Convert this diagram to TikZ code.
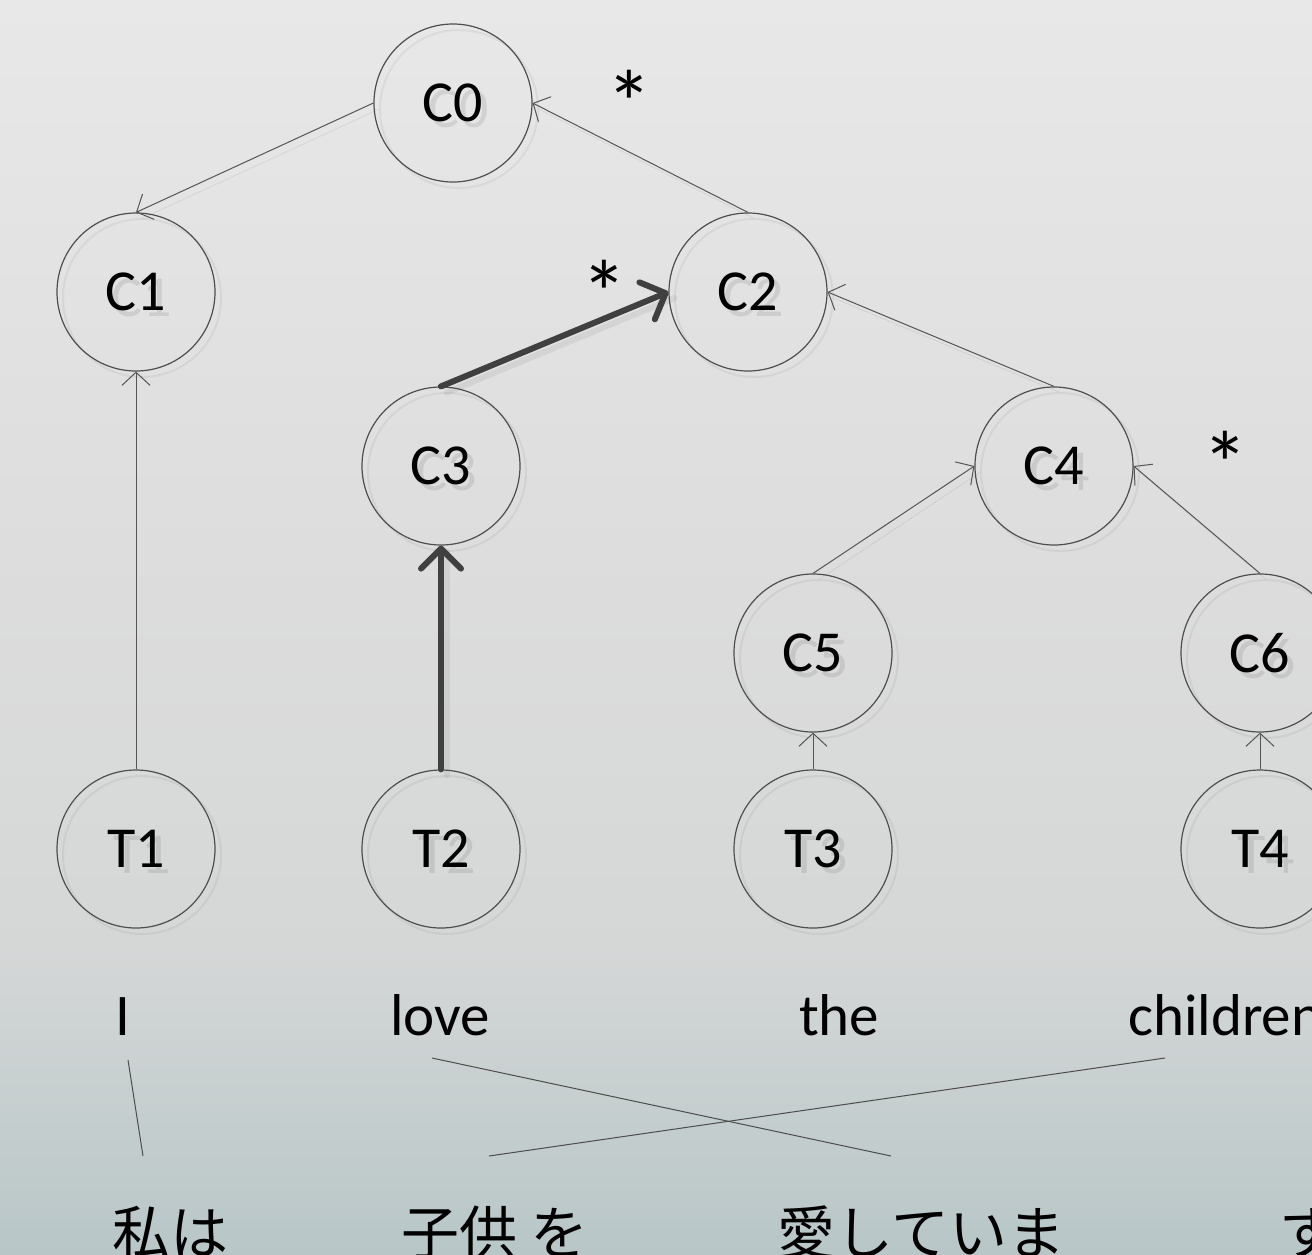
\documentclass[tikz,border=0pt]{standalone}
\usepackage{fontspec}
\setmainfont{Carlito}
\newfontfamily\jpfont{Noto Sans CJK JP}
\usetikzlibrary{arrows.meta,calc}
\pgfdeclarelayer{bg}
\pgfdeclarelayer{shadow}
\pgfsetlayers{bg,shadow,main}
\definecolor{bgA}{HTML}{E8E8E8}
\definecolor{bgB}{HTML}{DCDCDC}
\definecolor{bgC}{HTML}{D5D7D7}
\definecolor{bgD}{HTML}{B8C6C7}
\definecolor{ringC}{HTML}{4E4E4E}
\definecolor{arrC}{HTML}{555555}
\definecolor{thickC}{HTML}{404040}
\begin{document}
\begin{tikzpicture}[x=1pt,y=-1pt,
  cnode/.style={circle, draw=ringC, line width=1.2pt, minimum size=158pt, inner sep=0pt,
    font=\fontsize{58}{60}\selectfont},
  ghosttext/.style={text=black, text opacity=0.09, inner sep=0pt, font=\fontsize{58}{60}\selectfont},
  ghostring/.style={draw=black, draw opacity=0.05, line width=2pt},
  ghostline/.style={draw=black, draw opacity=0.06},
  thinarrow/.style={draw=arrC, line width=1pt, -{Straight Barb[length=13pt,width=28pt]}},
  thickarrow/.style={draw=thickC, line width=6pt, line cap=round,
    -{Straight Barb[round,length=20pt,width=40pt]}},
  starmark/.style={inner sep=0pt, anchor=base, font=\fontsize{92}{94}\selectfont},
  word/.style={inner sep=0pt, anchor=base west, font=\fontsize{59}{61}\selectfont},
  jword/.style={inner sep=0pt, anchor=base west, font=\jpfont\fontsize{58}{60}\selectfont},
  link/.style={draw=black!70, line width=1pt}]
\useasboundingbox (0,0) rectangle (1312,1254);
\begin{pgfonlayer}{bg}
  \fill[top color=bgA, bottom color=bgB] (0,-1) rectangle (1312,601);
  \fill[top color=bgB, bottom color=bgC] (0,600) rectangle (1312,951);
  \fill[top color=bgC, bottom color=bgD] (0,950) rectangle (1312,1255);
\end{pgfonlayer}

% circle nodes
\node[cnode] (c0) at (453,103) {C0};
\node[cnode] (c1) at (136,292) {C1};
\node[cnode] (c2) at (748,292) {C2};
\node[cnode] (c3) at (441,466) {C3};
\node[cnode] (c4) at (1054,466) {C4};
\node[cnode] (c5) at (813,653) {C5};
\node[cnode] (c6) at (1260,653) {C6};
\node[cnode] (t1) at (136,849) {T1};
\node[cnode] (t2) at (441,849) {T2};
\node[cnode] (t3) at (813,849) {T3};
\node[cnode] (t4) at (1260,849) {T4};

% stars
\node[starmark] (s0) at (629,135) {*};
\node[starmark] (s1) at (604,325) {*};
\node[starmark] (s2) at (1225,496) {*};

% connectors
\draw[thinarrow] (c0.west) -- (c1.north);
\draw[thinarrow] (c2.north) -- (c0.east);
\draw[thinarrow] (t1.north) -- (c1.south);
\draw[thinarrow] (c4.north) -- (c2.east);
\draw[thinarrow] (c5.north) -- (c4.west);
\draw[thinarrow] (c6.north) -- (c4.east);
\draw[thinarrow] (t3.north) -- (c5.south);
\draw[thinarrow] (t4.north) -- (c6.south);
\draw[thickarrow] (t2.north) -- (c3.south);
\draw[thickarrow] (c3.north) -- (c2.west);

% shadows
\begin{pgfonlayer}{shadow}
\begin{scope}[transform canvas={shift={(6,6)}}]
  \foreach \n/\t in {c0/C0,c1/C1,c2/C2,c3/C3,c4/C4,c5/C5,c6/C6,t1/T1,t2/T2,t3/T3,t4/T4}{
    \draw[ghostring] (\n.center) circle[radius=79];
    \node[ghosttext] (g\n) at (\n.center) {\t};
  }
  \draw[ghostline, line width=1pt] (c0.west) -- (c1.north);
  \draw[ghostline, line width=1pt] (c2.north) -- (c0.east);
  \draw[ghostline, line width=1pt] (c4.north) -- (c2.east);
  \draw[ghostline, line width=1pt] (c5.north) -- (c4.west);
  \draw[ghostline, line width=1pt] (c6.north) -- (c4.east);
  \draw[ghostline, line width=6pt, line cap=round] (t2.north) -- (c3.south);
  \draw[ghostline, line width=6pt, line cap=round] (c3.north) -- (c2.west);
\end{scope}
\end{pgfonlayer}

% English words
\node[word] (w1) at (115,1035) {I};
\node[word] (w2) at (390,1035) {love};
\node[word] (w3) at (799,1035) {the};
\node[word] (w4) at (1128,1035) {children};

% Japanese words
\node[jword] (j1) at (112,1254) {私は};
\node[jword] (j2) at (401,1254) {子供 を};
\node[jword] (j3) at (777,1254) {愛していま};
\node[jword] (j4) at (1279,1254) {す};

% alignment links
\coordinate (a1) at (128,1060);
\coordinate (b1) at (143,1156);
\coordinate (a2) at (432,1058);
\coordinate (b2) at (891,1156);
\coordinate (a3) at (1165,1058);
\coordinate (b3) at (489,1156);
\draw[link] (a1) -- (b1);
\draw[link] (a2) -- (b2);
\draw[link] (a3) -- (b3);
\end{tikzpicture}
\end{document}
